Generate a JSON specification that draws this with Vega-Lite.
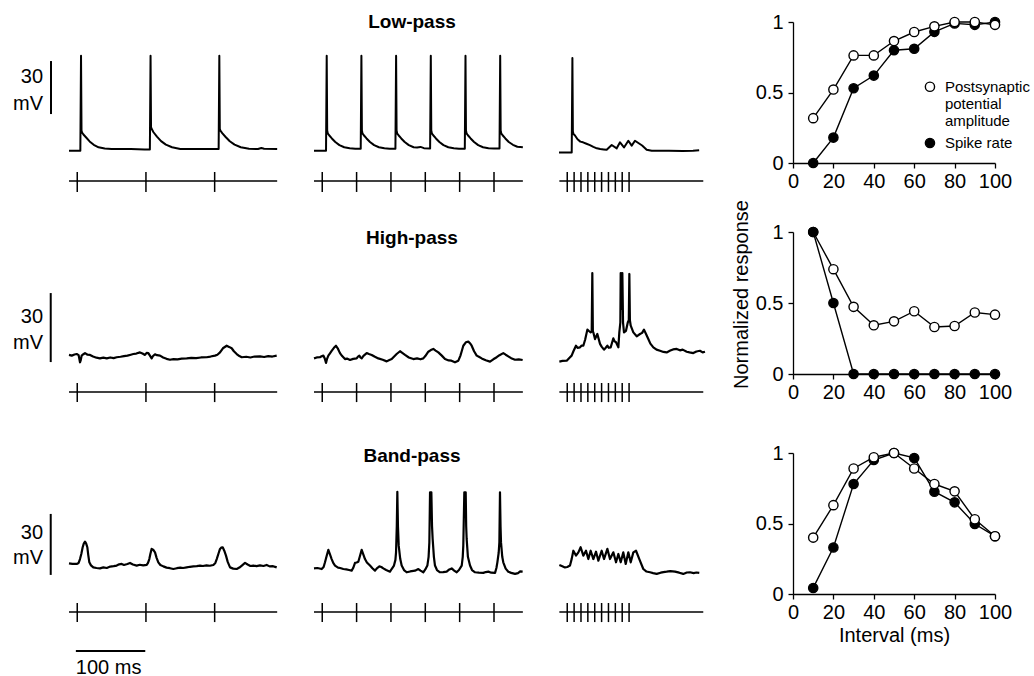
{
"$schema": "https://vega.github.io/schema/vega-lite/v6.json",
"padding": {"left": 13, "top": 12, "right": 10, "bottom": 0},
"columns": 4,
"spacing": {"row": 10, "column": 36},
"align": "each",
"bounds": "flush",
"config": {
  "view": {"stroke": null},
  "axis": {"domainColor": "black", "tickColor": "black", "labelColor": "black", "labelFont": "Liberation Sans", "labelFontSize": 20, "titleFont": "Liberation Sans", "titleFontSize": 20, "titleFontWeight": "normal", "titleColor": "black", "grid": false, "tickSize": 5, "domainWidth": 1.3, "tickWidth": 1.3, "labelFlush": false, "labelOverlap": false},
  "axisX": {"labelPadding": 3},
  "axisY": {"labelPadding": 5},
  "title": {"font": "Liberation Sans", "fontSize": 19, "fontWeight": "bold", "color": "black", "anchor": "middle", "baseline": "middle"}
},
"datasets": {
  "stim": [
    {"c":1,"t":12},{"c":1,"t":112},{"c":1,"t":212},
    {"c":2,"t":12},{"c":2,"t":62},{"c":2,"t":112},{"c":2,"t":162},{"c":2,"t":212},{"c":2,"t":262},
    {"c":3,"t":12},{"c":3,"t":22},{"c":3,"t":32},{"c":3,"t":42},{"c":3,"t":52},{"c":3,"t":62},{"c":3,"t":72},{"c":3,"t":82},{"c":3,"t":92},{"c":3,"t":102}
  ],
  "raster": [{"c":1,"t0":0,"t1":303},{"c":2,"t0":0,"t1":304},{"c":3,"t0":0.5,"t1":210}],
  "curves": [
    {"f":"LP","series":"spike","interval":10,"response":0},{"f":"LP","series":"spike","interval":20,"response":0.18},{"f":"LP","series":"spike","interval":30,"response":0.53},{"f":"LP","series":"spike","interval":40,"response":0.62},{"f":"LP","series":"spike","interval":50,"response":0.80},{"f":"LP","series":"spike","interval":60,"response":0.81},{"f":"LP","series":"spike","interval":70,"response":0.93},{"f":"LP","series":"spike","interval":80,"response":0.99},{"f":"LP","series":"spike","interval":90,"response":0.98},{"f":"LP","series":"spike","interval":100,"response":1.0},
    {"f":"LP","series":"psp","interval":10,"response":0.318},{"f":"LP","series":"psp","interval":20,"response":0.521},{"f":"LP","series":"psp","interval":30,"response":0.763},{"f":"LP","series":"psp","interval":40,"response":0.763},{"f":"LP","series":"psp","interval":50,"response":0.865},{"f":"LP","series":"psp","interval":60,"response":0.929},{"f":"LP","series":"psp","interval":70,"response":0.969},{"f":"LP","series":"psp","interval":80,"response":1.0},{"f":"LP","series":"psp","interval":90,"response":1.0},{"f":"LP","series":"psp","interval":100,"response":0.98},
    {"f":"HP","series":"psp","interval":10,"response":1.0},{"f":"HP","series":"psp","interval":20,"response":0.738},{"f":"HP","series":"psp","interval":30,"response":0.473},{"f":"HP","series":"psp","interval":40,"response":0.343},{"f":"HP","series":"psp","interval":50,"response":0.371},{"f":"HP","series":"psp","interval":60,"response":0.442},{"f":"HP","series":"psp","interval":70,"response":0.331},{"f":"HP","series":"psp","interval":80,"response":0.338},{"f":"HP","series":"psp","interval":90,"response":0.433},{"f":"HP","series":"psp","interval":100,"response":0.418},
    {"f":"HP","series":"spike","interval":10,"response":1.0},{"f":"HP","series":"spike","interval":20,"response":0.5},{"f":"HP","series":"spike","interval":30,"response":0},{"f":"HP","series":"spike","interval":40,"response":0},{"f":"HP","series":"spike","interval":50,"response":0},{"f":"HP","series":"spike","interval":60,"response":0},{"f":"HP","series":"spike","interval":70,"response":0},{"f":"HP","series":"spike","interval":80,"response":0},{"f":"HP","series":"spike","interval":90,"response":0},{"f":"HP","series":"spike","interval":100,"response":0},
    {"f":"BP","series":"spike","interval":10,"response":0.043},{"f":"BP","series":"spike","interval":20,"response":0.33},{"f":"BP","series":"spike","interval":30,"response":0.78},{"f":"BP","series":"spike","interval":40,"response":0.95},{"f":"BP","series":"spike","interval":50,"response":1.0},{"f":"BP","series":"spike","interval":60,"response":0.965},{"f":"BP","series":"spike","interval":70,"response":0.726},{"f":"BP","series":"spike","interval":80,"response":0.65},{"f":"BP","series":"spike","interval":90,"response":0.496},{"f":"BP","series":"spike","interval":100,"response":0.41},
    {"f":"BP","series":"psp","interval":10,"response":0.40},{"f":"BP","series":"psp","interval":20,"response":0.63},{"f":"BP","series":"psp","interval":30,"response":0.89},{"f":"BP","series":"psp","interval":40,"response":0.97},{"f":"BP","series":"psp","interval":50,"response":1.0},{"f":"BP","series":"psp","interval":60,"response":0.89},{"f":"BP","series":"psp","interval":70,"response":0.78},{"f":"BP","series":"psp","interval":80,"response":0.728},{"f":"BP","series":"psp","interval":90,"response":0.53},{"f":"BP","series":"psp","interval":100,"response":0.41}
  ],
  "traces": [
    {"p":"LP1","t":0,"v":-1},{"p":"LP1","t":16.5,"v":-1},{"p":"LP1","t":17.5,"v":52.8},{"p":"LP1","t":18.2,"v":10.5},{"p":"LP1","t":19,"v":9.4},{"p":"LP1","t":21,"v":8.2},{"p":"LP1","t":25,"v":6.5},{"p":"LP1","t":30,"v":4.3},{"p":"LP1","t":36,"v":2.4},{"p":"LP1","t":43,"v":1.0},{"p":"LP1","t":52,"v":0.3},{"p":"LP1","t":62,"v":0},{"p":"LP1","t":90,"v":0},{"p":"LP1","t":110,"v":-0.2},{"p":"LP1","t":117.7,"v":-0.2},{"p":"LP1","t":118.7,"v":52.8},{"p":"LP1","t":119.4,"v":12.5},{"p":"LP1","t":120.2,"v":11.5},{"p":"LP1","t":123,"v":9.5},{"p":"LP1","t":128,"v":7.0},{"p":"LP1","t":134,"v":4.5},{"p":"LP1","t":141,"v":2.5},{"p":"LP1","t":150,"v":1.0},{"p":"LP1","t":162,"v":0},{"p":"LP1","t":200,"v":0},{"p":"LP1","t":217.8,"v":0},{"p":"LP1","t":218.8,"v":52.8},{"p":"LP1","t":219.5,"v":11.5},{"p":"LP1","t":220.3,"v":10.5},{"p":"LP1","t":223,"v":9.0},{"p":"LP1","t":228,"v":6.8},{"p":"LP1","t":234,"v":4.4},{"p":"LP1","t":241,"v":2.5},{"p":"LP1","t":250,"v":1.0},{"p":"LP1","t":262,"v":0.2},{"p":"LP1","t":275,"v":0},{"p":"LP1","t":280,"v":0.6},{"p":"LP1","t":284,"v":0.2},{"p":"LP1","t":303,"v":0},
    {"p":"LP2","t":0,"v":-1},{"p":"LP2","t":17.5,"v":-1},{"p":"LP2","t":18.5,"v":52.8},{"p":"LP2","t":19.2,"v":10.5},{"p":"LP2","t":20,"v":8.9},{"p":"LP2","t":22,"v":7.8},{"p":"LP2","t":26,"v":6.0},{"p":"LP2","t":31,"v":4.0},{"p":"LP2","t":37,"v":2.2},{"p":"LP2","t":44,"v":1.0},{"p":"LP2","t":52,"v":0.4},{"p":"LP2","t":60,"v":0.2},{"p":"LP2","t":68,"v":0.2},{"p":"LP2","t":69,"v":52.8},{"p":"LP2","t":69.7,"v":10.5},{"p":"LP2","t":70.5,"v":8.9},{"p":"LP2","t":72.5,"v":7.8},{"p":"LP2","t":76.5,"v":6.0},{"p":"LP2","t":81.5,"v":4.0},{"p":"LP2","t":87.5,"v":2.2},{"p":"LP2","t":94.5,"v":1.0},{"p":"LP2","t":102.5,"v":0.4},{"p":"LP2","t":110,"v":0.2},{"p":"LP2","t":118.5,"v":0.2},{"p":"LP2","t":119.5,"v":52.8},{"p":"LP2","t":120.2,"v":10.5},{"p":"LP2","t":121,"v":8.9},{"p":"LP2","t":123,"v":7.8},{"p":"LP2","t":127,"v":6.0},{"p":"LP2","t":132,"v":4.0},{"p":"LP2","t":138,"v":2.2},{"p":"LP2","t":145,"v":1.0},{"p":"LP2","t":150,"v":0.9},{"p":"LP2","t":155,"v":1.2},{"p":"LP2","t":160,"v":0.5},{"p":"LP2","t":169,"v":0.3},{"p":"LP2","t":170,"v":52.8},{"p":"LP2","t":170.7,"v":10.5},{"p":"LP2","t":171.5,"v":8.9},{"p":"LP2","t":173.5,"v":7.8},{"p":"LP2","t":177.5,"v":6.0},{"p":"LP2","t":182.5,"v":4.0},{"p":"LP2","t":188.5,"v":2.2},{"p":"LP2","t":195.5,"v":1.0},{"p":"LP2","t":203.5,"v":0.4},{"p":"LP2","t":211,"v":0.2},{"p":"LP2","t":219.5,"v":0.2},{"p":"LP2","t":220.5,"v":52.8},{"p":"LP2","t":221.2,"v":10.5},{"p":"LP2","t":222,"v":8.9},{"p":"LP2","t":224,"v":7.8},{"p":"LP2","t":228,"v":6.0},{"p":"LP2","t":233,"v":4.0},{"p":"LP2","t":239,"v":2.2},{"p":"LP2","t":246,"v":1.0},{"p":"LP2","t":254,"v":0.5},{"p":"LP2","t":262,"v":0.3},{"p":"LP2","t":270,"v":0.3},{"p":"LP2","t":271,"v":52.8},{"p":"LP2","t":271.7,"v":10.5},{"p":"LP2","t":272.5,"v":8.9},{"p":"LP2","t":274.5,"v":7.8},{"p":"LP2","t":278.5,"v":6.0},{"p":"LP2","t":283.5,"v":4.0},{"p":"LP2","t":289.5,"v":2.4},{"p":"LP2","t":296,"v":1.3},{"p":"LP2","t":304,"v":1.0},
    {"p":"LP3","t":0,"v":-1.9},{"p":"LP3","t":18.5,"v":-1.9},{"p":"LP3","t":19.5,"v":51.5},{"p":"LP3","t":20.2,"v":10},{"p":"LP3","t":21,"v":8.5},{"p":"LP3","t":23,"v":7.8},{"p":"LP3","t":27,"v":5.5},{"p":"LP3","t":31,"v":4.2},{"p":"LP3","t":35,"v":3.8},{"p":"LP3","t":40,"v":3.0},{"p":"LP3","t":45,"v":2.2},{"p":"LP3","t":50,"v":1.2},{"p":"LP3","t":55,"v":0.4},{"p":"LP3","t":60,"v":0},{"p":"LP3","t":65,"v":-0.2},{"p":"LP3","t":69.4,"v":-0.4},{"p":"LP3","t":76.7,"v":2.3},{"p":"LP3","t":84,"v":0.4},{"p":"LP3","t":88.8,"v":3.8},{"p":"LP3","t":94.6,"v":0.9},{"p":"LP3","t":100.9,"v":4.7},{"p":"LP3","t":105.8,"v":1.9},{"p":"LP3","t":110.6,"v":4.7},{"p":"LP3","t":115.5,"v":3.4},{"p":"LP3","t":121,"v":2.0},{"p":"LP3","t":127.6,"v":-0.4},{"p":"LP3","t":135,"v":-1.0},{"p":"LP3","t":160,"v":-1.0},{"p":"LP3","t":180,"v":-1.1},{"p":"LP3","t":195,"v":-1.0},{"p":"LP3","t":204,"v":-0.7},
    {"p":"HP1","t":0,"v":0.9},{"p":"HP1","t":4,"v":0.6},{"p":"HP1","t":8,"v":1.1},{"p":"HP1","t":11.2,"v":1.3},{"p":"HP1","t":14,"v":0.8},{"p":"HP1","t":16,"v":-2.3},{"p":"HP1","t":17,"v":-1.5},{"p":"HP1","t":18.4,"v":0.6},{"p":"HP1","t":21,"v":1.2},{"p":"HP1","t":23.3,"v":1.7},{"p":"HP1","t":27,"v":1.0},{"p":"HP1","t":30.6,"v":0.9},{"p":"HP1","t":35,"v":0.2},{"p":"HP1","t":40,"v":-0.3},{"p":"HP1","t":45,"v":-0.6},{"p":"HP1","t":50,"v":-0.3},{"p":"HP1","t":55,"v":-0.6},{"p":"HP1","t":60,"v":-0.2},{"p":"HP1","t":65,"v":-0.5},{"p":"HP1","t":69.4,"v":-0.1},{"p":"HP1","t":75,"v":0.1},{"p":"HP1","t":80,"v":0.4},{"p":"HP1","t":85,"v":0.6},{"p":"HP1","t":90,"v":1.0},{"p":"HP1","t":93.6,"v":1.3},{"p":"HP1","t":98,"v":1.5},{"p":"HP1","t":103.3,"v":2.0},{"p":"HP1","t":107,"v":1.5},{"p":"HP1","t":110.6,"v":0.9},{"p":"HP1","t":113,"v":1.8},{"p":"HP1","t":115.5,"v":1.7},{"p":"HP1","t":118,"v":0.5},{"p":"HP1","t":120.3,"v":-0.6},{"p":"HP1","t":122,"v":0.3},{"p":"HP1","t":125.2,"v":1.2},{"p":"HP1","t":128,"v":0.8},{"p":"HP1","t":132.5,"v":0.6},{"p":"HP1","t":137,"v":-0.2},{"p":"HP1","t":142,"v":-0.8},{"p":"HP1","t":147,"v":-1.2},{"p":"HP1","t":152,"v":-0.9},{"p":"HP1","t":158,"v":-1.0},{"p":"HP1","t":164,"v":-0.7},{"p":"HP1","t":171.3,"v":-0.6},{"p":"HP1","t":178,"v":-0.4},{"p":"HP1","t":185,"v":-0.5},{"p":"HP1","t":192,"v":-0.2},{"p":"HP1","t":200.4,"v":-0.1},{"p":"HP1","t":206,"v":0.2},{"p":"HP1","t":212.5,"v":0.6},{"p":"HP1","t":216,"v":1.0},{"p":"HP1","t":219.8,"v":2.0},{"p":"HP1","t":224,"v":3.8},{"p":"HP1","t":229.5,"v":4.9},{"p":"HP1","t":233,"v":4.4},{"p":"HP1","t":236.8,"v":3.8},{"p":"HP1","t":240,"v":2.5},{"p":"HP1","t":244.1,"v":1.3},{"p":"HP1","t":248,"v":0.4},{"p":"HP1","t":251.4,"v":-0.1},{"p":"HP1","t":258,"v":0.1},{"p":"HP1","t":264,"v":-0.2},{"p":"HP1","t":270,"v":0.2},{"p":"HP1","t":278,"v":0.3},{"p":"HP1","t":284,"v":0.0},{"p":"HP1","t":290,"v":0.4},{"p":"HP1","t":296,"v":0.2},{"p":"HP1","t":302.3,"v":0.6},
    {"p":"HP2","t":0,"v":-0.6},{"p":"HP2","t":4,"v":-0.2},{"p":"HP2","t":8.7,"v":-0.1},{"p":"HP2","t":11,"v":0.3},{"p":"HP2","t":13.6,"v":0.6},{"p":"HP2","t":15.5,"v":-0.5},{"p":"HP2","t":17.5,"v":-2.6},{"p":"HP2","t":19,"v":-0.8},{"p":"HP2","t":20.9,"v":0.6},{"p":"HP2","t":23,"v":1.5},{"p":"HP2","t":25.7,"v":2.7},{"p":"HP2","t":29,"v":4.0},{"p":"HP2","t":32,"v":4.9},{"p":"HP2","t":35,"v":3.5},{"p":"HP2","t":37.8,"v":1.7},{"p":"HP2","t":41,"v":0.4},{"p":"HP2","t":45.1,"v":-0.9},{"p":"HP2","t":48,"v":-0.7},{"p":"HP2","t":52.4,"v":-1.3},{"p":"HP2","t":57,"v":-0.8},{"p":"HP2","t":62.1,"v":-0.6},{"p":"HP2","t":64,"v":0.2},{"p":"HP2","t":66,"v":0.6},{"p":"HP2","t":67.5,"v":-0.2},{"p":"HP2","t":69.4,"v":-0.6},{"p":"HP2","t":72,"v":0.5},{"p":"HP2","t":76.7,"v":1.7},{"p":"HP2","t":80,"v":1.3},{"p":"HP2","t":84,"v":0.9},{"p":"HP2","t":88,"v":0.2},{"p":"HP2","t":93.6,"v":-0.6},{"p":"HP2","t":100,"v":-1.2},{"p":"HP2","t":105.8,"v":-1.9},{"p":"HP2","t":109,"v":-1.4},{"p":"HP2","t":113.1,"v":-0.9},{"p":"HP2","t":116,"v":0.0},{"p":"HP2","t":120.3,"v":1.3},{"p":"HP2","t":125.2,"v":2.5},{"p":"HP2","t":128,"v":1.9},{"p":"HP2","t":132.5,"v":0.9},{"p":"HP2","t":138,"v":-0.2},{"p":"HP2","t":144.6,"v":-0.9},{"p":"HP2","t":150,"v":-0.6},{"p":"HP2","t":155,"v":-1.0},{"p":"HP2","t":159.1,"v":-0.6},{"p":"HP2","t":162,"v":0.4},{"p":"HP2","t":166.4,"v":2.3},{"p":"HP2","t":170,"v":3.0},{"p":"HP2","t":173.7,"v":3.5},{"p":"HP2","t":177,"v":2.8},{"p":"HP2","t":181,"v":2.0},{"p":"HP2","t":186,"v":0.6},{"p":"HP2","t":190.7,"v":-0.9},{"p":"HP2","t":196,"v":-1.5},{"p":"HP2","t":200,"v":-1.6},{"p":"HP2","t":205.2,"v":-2.3},{"p":"HP2","t":210.1,"v":-1.6},{"p":"HP2","t":213,"v":0.5},{"p":"HP2","t":215,"v":2.5},{"p":"HP2","t":217.3,"v":4.9},{"p":"HP2","t":221,"v":6.4},{"p":"HP2","t":224.6,"v":6.7},{"p":"HP2","t":227,"v":6.0},{"p":"HP2","t":229.5,"v":4.9},{"p":"HP2","t":233,"v":2.5},{"p":"HP2","t":236.8,"v":0.6},{"p":"HP2","t":240,"v":0.1},{"p":"HP2","t":244.1,"v":-0.6},{"p":"HP2","t":250,"v":-1.4},{"p":"HP2","t":256.2,"v":-2.0},{"p":"HP2","t":261,"v":-1.0},{"p":"HP2","t":265.9,"v":-0.1},{"p":"HP2","t":270,"v":0.8},{"p":"HP2","t":275.5,"v":1.7},{"p":"HP2","t":279,"v":1.0},{"p":"HP2","t":282.8,"v":0.3},{"p":"HP2","t":287,"v":-0.5},{"p":"HP2","t":292.6,"v":-1.2},{"p":"HP2","t":298,"v":-1.0},{"p":"HP2","t":303.7,"v":-1.3},
    {"p":"HP3","t":0.5,"v":-2.0},{"p":"HP3","t":5,"v":-1.7},{"p":"HP3","t":11.2,"v":-1.6},{"p":"HP3","t":15,"v":-0.4},{"p":"HP3","t":18.4,"v":0.6},{"p":"HP3","t":21,"v":2.5},{"p":"HP3","t":24.7,"v":4.9},{"p":"HP3","t":27,"v":4.0},{"p":"HP3","t":30.6,"v":4.2},{"p":"HP3","t":33,"v":5.0},{"p":"HP3","t":35.4,"v":4.9},{"p":"HP3","t":38,"v":7.5},{"p":"HP3","t":41.3,"v":11.9},{"p":"HP3","t":44,"v":11.2},{"p":"HP3","t":46.1,"v":10.7},{"p":"HP3","t":47.6,"v":11},{"p":"HP3","t":48.5,"v":36.5},{"p":"HP3","t":49.3,"v":11},{"p":"HP3","t":50,"v":10.7},{"p":"HP3","t":52.4,"v":7.8},{"p":"HP3","t":55.8,"v":10},{"p":"HP3","t":59.7,"v":5.7},{"p":"HP3","t":62,"v":4.5},{"p":"HP3","t":65.5,"v":3.2},{"p":"HP3","t":68,"v":4.0},{"p":"HP3","t":70.4,"v":4.9},{"p":"HP3","t":72.5,"v":4.0},{"p":"HP3","t":75.2,"v":4.2},{"p":"HP3","t":77,"v":6.0},{"p":"HP3","t":79.1,"v":8.1},{"p":"HP3","t":81,"v":6.8},{"p":"HP3","t":83,"v":6.4},{"p":"HP3","t":86.4,"v":4.2},{"p":"HP3","t":87.8,"v":10.7},{"p":"HP3","t":89.3,"v":15},{"p":"HP3","t":89.8,"v":36.5},{"p":"HP3","t":90.4,"v":20.9},{"p":"HP3","t":91.6,"v":20.9},{"p":"HP3","t":92.2,"v":36.5},{"p":"HP3","t":93.2,"v":15},{"p":"HP3","t":94.6,"v":10.7},{"p":"HP3","t":97.5,"v":11.4},{"p":"HP3","t":100.2,"v":15.1},{"p":"HP3","t":101.6,"v":16},{"p":"HP3","t":102.4,"v":36.1},{"p":"HP3","t":103.2,"v":16},{"p":"HP3","t":104.4,"v":13.6},{"p":"HP3","t":108.2,"v":10.7},{"p":"HP3","t":113.1,"v":9.0},{"p":"HP3","t":117.9,"v":10.0},{"p":"HP3","t":121,"v":10.5},{"p":"HP3","t":123.7,"v":11.9},{"p":"HP3","t":127,"v":9.8},{"p":"HP3","t":130,"v":7.8},{"p":"HP3","t":133,"v":5.8},{"p":"HP3","t":137.3,"v":4.2},{"p":"HP3","t":142,"v":3.2},{"p":"HP3","t":147,"v":2.7},{"p":"HP3","t":152,"v":2.2},{"p":"HP3","t":156.7,"v":2.0},{"p":"HP3","t":162,"v":2.8},{"p":"HP3","t":166,"v":3.3},{"p":"HP3","t":171.3,"v":3.5},{"p":"HP3","t":176,"v":2.9},{"p":"HP3","t":180,"v":3.2},{"p":"HP3","t":185.9,"v":2.3},{"p":"HP3","t":190,"v":2.0},{"p":"HP3","t":195.5,"v":1.7},{"p":"HP3","t":200,"v":2.4},{"p":"HP3","t":205.2,"v":2.7},{"p":"HP3","t":209,"v":2.0},{"p":"HP3","t":212.5,"v":2.3},
    {"p":"BP1","t":0,"v":1.8},{"p":"BP1","t":5,"v":1.5},{"p":"BP1","t":11.2,"v":1.5},{"p":"BP1","t":14,"v":2.0},{"p":"BP1","t":16,"v":3.9},{"p":"BP1","t":18,"v":6.5},{"p":"BP1","t":19.9,"v":9.7},{"p":"BP1","t":21.5,"v":11.5},{"p":"BP1","t":23.3,"v":12.5},{"p":"BP1","t":25,"v":11.5},{"p":"BP1","t":26.7,"v":9.7},{"p":"BP1","t":28,"v":6},{"p":"BP1","t":29.6,"v":2.3},{"p":"BP1","t":32,"v":0.8},{"p":"BP1","t":35.4,"v":-0.2},{"p":"BP1","t":40,"v":-0.5},{"p":"BP1","t":45.1,"v":-0.7},{"p":"BP1","t":50,"v":-0.2},{"p":"BP1","t":55,"v":-0.5},{"p":"BP1","t":60,"v":0.2},{"p":"BP1","t":65,"v":0.4},{"p":"BP1","t":69.4,"v":0.7},{"p":"BP1","t":73,"v":1.3},{"p":"BP1","t":76.7,"v":1.5},{"p":"BP1","t":80,"v":1.0},{"p":"BP1","t":85,"v":1.5},{"p":"BP1","t":88.8,"v":2.0},{"p":"BP1","t":93,"v":1.2},{"p":"BP1","t":98.5,"v":0.7},{"p":"BP1","t":103,"v":1.1},{"p":"BP1","t":108,"v":0.8},{"p":"BP1","t":113.1,"v":1.0},{"p":"BP1","t":115,"v":2.0},{"p":"BP1","t":116.9,"v":3.9},{"p":"BP1","t":118.5,"v":6.5},{"p":"BP1","t":120.3,"v":8.9},{"p":"BP1","t":122.5,"v":8.5},{"p":"BP1","t":125.2,"v":7.2},{"p":"BP1","t":127.5,"v":4.5},{"p":"BP1","t":130,"v":2.3},{"p":"BP1","t":133,"v":1.0},{"p":"BP1","t":137.3,"v":0.3},{"p":"BP1","t":142,"v":-0.3},{"p":"BP1","t":147,"v":-0.6},{"p":"BP1","t":151.9,"v":-1.0},{"p":"BP1","t":157,"v":-0.6},{"p":"BP1","t":162,"v":-0.3},{"p":"BP1","t":166,"v":-0.5},{"p":"BP1","t":171.3,"v":-0.2},{"p":"BP1","t":176,"v":0.1},{"p":"BP1","t":181,"v":0.3},{"p":"BP1","t":186,"v":0.4},{"p":"BP1","t":190.7,"v":0.7},{"p":"BP1","t":195,"v":0.5},{"p":"BP1","t":200,"v":0.8},{"p":"BP1","t":205,"v":0.6},{"p":"BP1","t":210.1,"v":1.0},{"p":"BP1","t":213,"v":2.0},{"p":"BP1","t":215,"v":3.9},{"p":"BP1","t":217.5,"v":6.5},{"p":"BP1","t":219.8,"v":8.9},{"p":"BP1","t":221.5,"v":9.5},{"p":"BP1","t":223.7,"v":9.7},{"p":"BP1","t":226,"v":8.0},{"p":"BP1","t":228.5,"v":5.6},{"p":"BP1","t":231,"v":2.5},{"p":"BP1","t":234.4,"v":-0.2},{"p":"BP1","t":239,"v":-0.8},{"p":"BP1","t":244.1,"v":-1.0},{"p":"BP1","t":248,"v":-0.3},{"p":"BP1","t":252,"v":0.8},{"p":"BP1","t":256.2,"v":2.0},{"p":"BP1","t":260,"v":1.2},{"p":"BP1","t":264,"v":0.5},{"p":"BP1","t":268.3,"v":0.7},{"p":"BP1","t":273,"v":0.4},{"p":"BP1","t":278,"v":0.8},{"p":"BP1","t":283,"v":0.5},{"p":"BP1","t":287.7,"v":1.0},{"p":"BP1","t":292,"v":0.3},{"p":"BP1","t":297,"v":0.4},{"p":"BP1","t":302.3,"v":-0.2},
    {"p":"BP2","t":0,"v":-0.7},{"p":"BP2","t":5,"v":-0.5},{"p":"BP2","t":11.2,"v":-1.0},{"p":"BP2","t":14,"v":0.0},{"p":"BP2","t":16,"v":2.3},{"p":"BP2","t":18.5,"v":5.5},{"p":"BP2","t":20.9,"v":8.4},{"p":"BP2","t":23,"v":6.5},{"p":"BP2","t":25.7,"v":3.9},{"p":"BP2","t":28,"v":2.0},{"p":"BP2","t":30.6,"v":0.7},{"p":"BP2","t":35,"v":-0.3},{"p":"BP2","t":38,"v":-0.5},{"p":"BP2","t":42.7,"v":-1.0},{"p":"BP2","t":47,"v":-1.2},{"p":"BP2","t":51,"v":-1.5},{"p":"BP2","t":54.8,"v":-1.8},{"p":"BP2","t":57,"v":-0.5},{"p":"BP2","t":59.7,"v":2.0},{"p":"BP2","t":62,"v":2.2},{"p":"BP2","t":64.5,"v":2.6},{"p":"BP2","t":67,"v":5.5},{"p":"BP2","t":69.4,"v":8.4},{"p":"BP2","t":71.5,"v":6.5},{"p":"BP2","t":74.2,"v":3.9},{"p":"BP2","t":77,"v":2.2},{"p":"BP2","t":81.5,"v":0.7},{"p":"BP2","t":85,"v":-0.6},{"p":"BP2","t":88.8,"v":-1.8},{"p":"BP2","t":92,"v":-0.5},{"p":"BP2","t":95.1,"v":0.3},{"p":"BP2","t":98,"v":0.0},{"p":"BP2","t":100.9,"v":-0.7},{"p":"BP2","t":105,"v":-1.5},{"p":"BP2","t":110.6,"v":-2.3},{"p":"BP2","t":113,"v":-1.0},{"p":"BP2","t":116.4,"v":0.7},{"p":"BP2","t":118.5,"v":3.5},{"p":"BP2","t":119.4,"v":7.2},{"p":"BP2","t":120.5,"v":20},{"p":"BP2","t":121.3,"v":37.0},{"p":"BP2","t":122.2,"v":20},{"p":"BP2","t":123.3,"v":10.5},{"p":"BP2","t":125.5,"v":4.0},{"p":"BP2","t":127.6,"v":0.7},{"p":"BP2","t":131,"v":-1.5},{"p":"BP2","t":134.9,"v":-2.6},{"p":"BP2","t":140,"v":-2.2},{"p":"BP2","t":147,"v":-1.8},{"p":"BP2","t":151.9,"v":-1.0},{"p":"BP2","t":155,"v":-1.8},{"p":"BP2","t":159.1,"v":-2.6},{"p":"BP2","t":162,"v":-1.2},{"p":"BP2","t":165,"v":0.7},{"p":"BP2","t":166.8,"v":5.0},{"p":"BP2","t":167.9,"v":12.1},{"p":"BP2","t":168.9,"v":36.7},{"p":"BP2","t":170.8,"v":36.7},{"p":"BP2","t":171.8,"v":20},{"p":"BP2","t":172.7,"v":13.8},{"p":"BP2","t":174.5,"v":5.0},{"p":"BP2","t":176.1,"v":0.7},{"p":"BP2","t":179,"v":-1.5},{"p":"BP2","t":183.4,"v":-2.6},{"p":"BP2","t":188,"v":-2.5},{"p":"BP2","t":193.1,"v":-2.3},{"p":"BP2","t":197,"v":-1.2},{"p":"BP2","t":200.4,"v":-0.7},{"p":"BP2","t":204,"v":-1.8},{"p":"BP2","t":207.7,"v":-2.6},{"p":"BP2","t":211,"v":-1.5},{"p":"BP2","t":215,"v":0.7},{"p":"BP2","t":216.5,"v":5.0},{"p":"BP2","t":217.3,"v":10.5},{"p":"BP2","t":218.8,"v":36.7},{"p":"BP2","t":220.8,"v":36.7},{"p":"BP2","t":221.5,"v":20},{"p":"BP2","t":222.2,"v":13.8},{"p":"BP2","t":224,"v":5.0},{"p":"BP2","t":227.1,"v":0.7},{"p":"BP2","t":230,"v":-1.5},{"p":"BP2","t":234.4,"v":-2.6},{"p":"BP2","t":240,"v":-2.8},{"p":"BP2","t":246.5,"v":-2.9},{"p":"BP2","t":250,"v":-2.5},{"p":"BP2","t":253.8,"v":-2.3},{"p":"BP2","t":258,"v":-2.8},{"p":"BP2","t":263.5,"v":-2.9},{"p":"BP2","t":265.5,"v":-0.5},{"p":"BP2","t":266.9,"v":2.3},{"p":"BP2","t":268.8,"v":7},{"p":"BP2","t":269.8,"v":12.1},{"p":"BP2","t":270.7,"v":36.7},{"p":"BP2","t":271.5,"v":20},{"p":"BP2","t":272.2,"v":12.1},{"p":"BP2","t":274,"v":5.0},{"p":"BP2","t":275.5,"v":2.3},{"p":"BP2","t":279,"v":-0.8},{"p":"BP2","t":282.8,"v":-2.3},{"p":"BP2","t":287,"v":-2.9},{"p":"BP2","t":292.6,"v":-3.4},{"p":"BP2","t":297,"v":-3.0},{"p":"BP2","t":300,"v":-2.2},{"p":"BP2","t":303.7,"v":-2.3},
    {"p":"BP3","t":0.5,"v":1.0},{"p":"BP3","t":4,"v":0.5},{"p":"BP3","t":8.7,"v":-0.2},{"p":"BP3","t":12,"v":0.0},{"p":"BP3","t":16,"v":0.7},{"p":"BP3","t":18.5,"v":4.0},{"p":"BP3","t":20.9,"v":8.0},{"p":"BP3","t":24.7,"v":5.6},{"p":"BP3","t":28.2,"v":7.2},{"p":"BP3","t":31.5,"v":9.7},{"p":"BP3","t":35.4,"v":5.6},{"p":"BP3","t":39.3,"v":8.0},{"p":"BP3","t":42.7,"v":3.9},{"p":"BP3","t":46.1,"v":8.0},{"p":"BP3","t":50,"v":3.9},{"p":"BP3","t":53.9,"v":7.5},{"p":"BP3","t":57.3,"v":3.1},{"p":"BP3","t":62.1,"v":8.0},{"p":"BP3","t":65.5,"v":3.9},{"p":"BP3","t":70.4,"v":8.9},{"p":"BP3","t":74.2,"v":3.9},{"p":"BP3","t":79.1,"v":7.2},{"p":"BP3","t":83,"v":2.3},{"p":"BP3","t":86.4,"v":6.4},{"p":"BP3","t":89.8,"v":2.3},{"p":"BP3","t":93.6,"v":7.2},{"p":"BP3","t":97.1,"v":1.5},{"p":"BP3","t":100.9,"v":7.2},{"p":"BP3","t":104.4,"v":2.3},{"p":"BP3","t":108.2,"v":7.2},{"p":"BP3","t":112.1,"v":8.0},{"p":"BP3","t":116.9,"v":3.9},{"p":"BP3","t":122.7,"v":-1.0},{"p":"BP3","t":127,"v":-2.2},{"p":"BP3","t":132.5,"v":-2.6},{"p":"BP3","t":137,"v":-3.0},{"p":"BP3","t":142.2,"v":-3.4},{"p":"BP3","t":148,"v":-2.8},{"p":"BP3","t":152,"v":-2.5},{"p":"BP3","t":156.7,"v":-2.3},{"p":"BP3","t":162,"v":-2.0},{"p":"BP3","t":168.9,"v":-2.3},{"p":"BP3","t":175,"v":-2.8},{"p":"BP3","t":180.9,"v":-3.4},{"p":"BP3","t":186,"v":-2.7},{"p":"BP3","t":190.7,"v":-2.6},{"p":"BP3","t":196,"v":-3.0},{"p":"BP3","t":200,"v":-2.7},{"p":"BP3","t":204.2,"v":-2.9}
  ]
},
"concat": [
  {"width": 209, "height": 200, "layer": [
    {"data": {"name": "traces"}, "transform": [{"filter": "datum.p=='LP1'"}], "mark": {"type": "line", "color": "black", "strokeWidth": 2, "strokeJoin": "round"},
     "encoding": {"x": {"field": "t", "type": "quantitative", "scale": {"domain": [0, 304.2], "nice": false, "zero": false}, "axis": null}, "y": {"field": "v", "type": "quantitative", "scale": {"domain": [-41.3, 71.9], "nice": false, "zero": false}, "axis": null}}},
    {"data": {"name": "raster"}, "transform": [{"filter": "datum.c==1"}], "mark": {"type": "rule", "color": "black", "strokeWidth": 1.5}, "encoding": {"x": {"field": "t0", "type": "quantitative", "axis": null}, "x2": {"field": "t1"}, "y": {"datum": -18.1, "axis": null}}},
    {"data": {"name": "stim"}, "transform": [{"filter": "datum.c==1"}], "mark": {"type": "rule", "color": "black", "strokeWidth": 1.5}, "encoding": {"x": {"field": "t", "type": "quantitative", "axis": null}, "y": {"datum": -13.0, "axis": null}, "y2": {"datum": -24.3}}},
    {"data": {"values": [{}]}, "mark": {"type": "rule", "color": "black", "strokeWidth": 2}, "encoding": {"x": {"datum": -26.2, "axis": null}, "y": {"datum": 19.8, "axis": null}, "y2": {"datum": 49.8}}},
    {"data": {"values": [{}]}, "mark": {"type": "text", "text": ["30", "mV"], "align": "right", "baseline": "top", "lineHeight": 27, "font": "Liberation Sans", "fontSize": 20, "color": "black"}, "encoding": {"x": {"datum": -37.8, "axis": null}, "y": {"datum": 46.2, "axis": null}}}
  ]},
  {"width": 209, "height": 200, "title": {"text": "Low-pass", "offset": -10, "dx": -6.5}, "layer": [
    {"data": {"name": "traces"}, "transform": [{"filter": "datum.p=='LP2'"}], "mark": {"type": "line", "color": "black", "strokeWidth": 2, "strokeJoin": "round"},
     "encoding": {"x": {"field": "t", "type": "quantitative", "scale": {"domain": [0, 304.2], "nice": false, "zero": false}, "axis": null}, "y": {"field": "v", "type": "quantitative", "scale": {"domain": [-41.3, 71.9], "nice": false, "zero": false}, "axis": null}}},
    {"data": {"name": "raster"}, "transform": [{"filter": "datum.c==2"}], "mark": {"type": "rule", "color": "black", "strokeWidth": 1.5}, "encoding": {"x": {"field": "t0", "type": "quantitative", "axis": null}, "x2": {"field": "t1"}, "y": {"datum": -18.1, "axis": null}}},
    {"data": {"name": "stim"}, "transform": [{"filter": "datum.c==2"}], "mark": {"type": "rule", "color": "black", "strokeWidth": 1.5}, "encoding": {"x": {"field": "t", "type": "quantitative", "axis": null}, "y": {"datum": -13.0, "axis": null}, "y2": {"datum": -24.3}}}
  ]},
  {"width": 198, "height": 200, "layer": [
    {"data": {"name": "traces"}, "transform": [{"filter": "datum.p=='LP3'"}], "mark": {"type": "line", "color": "black", "strokeWidth": 2, "strokeJoin": "round"},
     "encoding": {"x": {"field": "t", "type": "quantitative", "scale": {"domain": [0, 288.2], "nice": false, "zero": false}, "axis": null}, "y": {"field": "v", "type": "quantitative", "scale": {"domain": [-41.3, 71.9], "nice": false, "zero": false}, "axis": null}}},
    {"data": {"name": "raster"}, "transform": [{"filter": "datum.c==3"}], "mark": {"type": "rule", "color": "black", "strokeWidth": 1.5}, "encoding": {"x": {"field": "t0", "type": "quantitative", "axis": null}, "x2": {"field": "t1"}, "y": {"datum": -18.1, "axis": null}}},
    {"data": {"name": "stim"}, "transform": [{"filter": "datum.c==3"}], "mark": {"type": "rule", "color": "black", "strokeWidth": 1.5}, "encoding": {"x": {"field": "t", "type": "quantitative", "axis": null}, "y": {"datum": -13.0, "axis": null}, "y2": {"datum": -24.3}}}
  ]},
  {"width": 202, "height": 141, "layer": [
    {"data": {"name": "curves"}, "transform": [{"filter": "datum.f=='LP'"}], "mark": {"type": "line", "color": "black", "strokeWidth": 1.4},
     "encoding": {"x": {"field": "interval", "type": "quantitative", "scale": {"domain": [0, 100], "nice": false}, "axis": {"values": [0, 20, 40, 60, 80, 100], "title": null}}, "y": {"field": "response", "type": "quantitative", "scale": {"domain": [0, 1], "nice": false}, "axis": {"values": [0, 0.25, 0.5, 0.75, 1], "format": "~g", "labelExpr": "datum.value==0.25||datum.value==0.75?'':datum.label", "title": null}}, "detail": {"field": "series"}}},
    {"data": {"name": "curves"}, "transform": [{"filter": "datum.f=='LP'"}], "mark": {"type": "point", "filled": true, "size": 85, "stroke": "black", "strokeWidth": 1.4, "opacity": 1},
     "encoding": {"x": {"field": "interval", "type": "quantitative"}, "y": {"field": "response", "type": "quantitative"}, "fill": {"field": "series", "type": "nominal", "scale": {"domain": ["psp", "spike"], "range": ["white", "black"]}, "legend": null}}},
    {"data": {"values": [{}]}, "mark": {"type": "point", "filled": true, "size": 85, "fill": "white", "stroke": "black", "strokeWidth": 1.4, "opacity": 1}, "encoding": {"x": {"datum": 67.8}, "y": {"datum": 0.541}}},
    {"data": {"values": [{}]}, "mark": {"type": "point", "filled": true, "size": 85, "fill": "black", "stroke": "black", "strokeWidth": 1.4, "opacity": 1}, "encoding": {"x": {"datum": 67.8}, "y": {"datum": 0.142}}},
    {"data": {"values": [{}]}, "mark": {"type": "text", "text": ["Postsynaptic", "potential", "amplitude"], "align": "left", "baseline": "top", "lineHeight": 17, "font": "Liberation Sans", "fontSize": 15, "color": "black"}, "encoding": {"x": {"datum": 75.2}, "y": {"datum": 0.587}}},
    {"data": {"values": [{}]}, "mark": {"type": "text", "text": "Spike rate", "align": "left", "baseline": "middle", "font": "Liberation Sans", "fontSize": 15, "color": "black"}, "encoding": {"x": {"datum": 75.2}, "y": {"datum": 0.142}}}
  ]},

  {"width": 209, "height": 211, "layer": [
    {"data": {"name": "traces"}, "transform": [{"filter": "datum.p=='HP1'"}], "mark": {"type": "line", "color": "black", "strokeWidth": 2.2, "strokeJoin": "round"},
     "encoding": {"x": {"field": "t", "type": "quantitative", "scale": {"domain": [0, 304.2], "nice": false, "zero": false}, "axis": null}, "y": {"field": "v", "type": "quantitative", "scale": {"domain": [-37.39, 54.35], "nice": false, "zero": false}, "axis": null}}},
    {"data": {"name": "raster"}, "transform": [{"filter": "datum.c==1"}], "mark": {"type": "rule", "color": "black", "strokeWidth": 1.5}, "encoding": {"x": {"field": "t0", "type": "quantitative", "axis": null}, "x2": {"field": "t1"}, "y": {"datum": -15.2, "axis": null}}},
    {"data": {"name": "stim"}, "transform": [{"filter": "datum.c==1"}], "mark": {"type": "rule", "color": "black", "strokeWidth": 1.5}, "encoding": {"x": {"field": "t", "type": "quantitative", "axis": null}, "y": {"datum": -11.3, "axis": null}, "y2": {"datum": -19.6}}},
    {"data": {"values": [{}]}, "mark": {"type": "rule", "color": "black", "strokeWidth": 2}, "encoding": {"x": {"datum": -26.6, "axis": null}, "y": {"datum": -2.2, "axis": null}, "y2": {"datum": 27.8}}},
    {"data": {"values": [{}]}, "mark": {"type": "text", "text": ["30", "mV"], "align": "right", "baseline": "top", "lineHeight": 26, "font": "Liberation Sans", "fontSize": 20, "color": "black"}, "encoding": {"x": {"datum": -37.8, "axis": null}, "y": {"datum": 21.6, "axis": null}}}
  ]},
  {"width": 209, "height": 211, "title": {"text": "High-pass", "offset": -16, "dx": -6.5}, "layer": [
    {"data": {"name": "traces"}, "transform": [{"filter": "datum.p=='HP2'"}], "mark": {"type": "line", "color": "black", "strokeWidth": 2.2, "strokeJoin": "round"},
     "encoding": {"x": {"field": "t", "type": "quantitative", "scale": {"domain": [0, 304.2], "nice": false, "zero": false}, "axis": null}, "y": {"field": "v", "type": "quantitative", "scale": {"domain": [-37.39, 54.35], "nice": false, "zero": false}, "axis": null}}},
    {"data": {"name": "raster"}, "transform": [{"filter": "datum.c==2"}], "mark": {"type": "rule", "color": "black", "strokeWidth": 1.5}, "encoding": {"x": {"field": "t0", "type": "quantitative", "axis": null}, "x2": {"field": "t1"}, "y": {"datum": -15.2, "axis": null}}},
    {"data": {"name": "stim"}, "transform": [{"filter": "datum.c==2"}], "mark": {"type": "rule", "color": "black", "strokeWidth": 1.5}, "encoding": {"x": {"field": "t", "type": "quantitative", "axis": null}, "y": {"datum": -11.3, "axis": null}, "y2": {"datum": -19.6}}}
  ]},
  {"width": 198, "height": 211, "layer": [
    {"data": {"name": "traces"}, "transform": [{"filter": "datum.p=='HP3'"}], "mark": {"type": "line", "color": "black", "strokeWidth": 2.2, "strokeJoin": "round"},
     "encoding": {"x": {"field": "t", "type": "quantitative", "scale": {"domain": [0, 288.2], "nice": false, "zero": false}, "axis": null}, "y": {"field": "v", "type": "quantitative", "scale": {"domain": [-37.39, 54.35], "nice": false, "zero": false}, "axis": null}}},
    {"data": {"name": "raster"}, "transform": [{"filter": "datum.c==3"}], "mark": {"type": "rule", "color": "black", "strokeWidth": 1.5}, "encoding": {"x": {"field": "t0", "type": "quantitative", "axis": null}, "x2": {"field": "t1"}, "y": {"datum": -15.2, "axis": null}}},
    {"data": {"name": "stim"}, "transform": [{"filter": "datum.c==3"}], "mark": {"type": "rule", "color": "black", "strokeWidth": 1.5}, "encoding": {"x": {"field": "t", "type": "quantitative", "axis": null}, "y": {"datum": -11.3, "axis": null}, "y2": {"datum": -19.6}}}
  ]},
  {"width": 202, "height": 142, "layer": [
    {"data": {"name": "curves"}, "transform": [{"filter": "datum.f=='HP'"}], "mark": {"type": "line", "color": "black", "strokeWidth": 1.4},
     "encoding": {"x": {"field": "interval", "type": "quantitative", "scale": {"domain": [0, 100], "nice": false}, "axis": {"values": [0, 20, 40, 60, 80, 100], "title": null}}, "y": {"field": "response", "type": "quantitative", "scale": {"domain": [0, 1], "nice": false}, "axis": {"values": [0, 0.25, 0.5, 0.75, 1], "format": "~g", "labelExpr": "datum.value==0.25||datum.value==0.75?'':datum.label", "title": "Normalized response", "titlePadding": 4, "titleY": 62}}, "detail": {"field": "series"}}},
    {"data": {"name": "curves"}, "transform": [{"filter": "datum.f=='HP'"}], "mark": {"type": "point", "filled": true, "size": 85, "stroke": "black", "strokeWidth": 1.4, "opacity": 1},
     "encoding": {"x": {"field": "interval", "type": "quantitative"}, "y": {"field": "response", "type": "quantitative"}, "fill": {"field": "series", "type": "nominal", "scale": {"domain": ["psp", "spike"], "range": ["white", "black"]}, "legend": null}}}
  ]},

  {"width": 209, "height": 200, "layer": [
    {"data": {"name": "traces"}, "transform": [{"filter": "datum.p=='BP1'"}], "mark": {"type": "line", "color": "black", "strokeWidth": 2.2, "strokeJoin": "round"},
     "encoding": {"x": {"field": "t", "type": "quantitative", "scale": {"domain": [0, 304.2], "nice": false, "zero": false}, "axis": null}, "y": {"field": "v", "type": "quantitative", "scale": {"domain": [-42.31, 56.07], "nice": false, "zero": false}, "axis": null}}},
    {"data": {"name": "raster"}, "transform": [{"filter": "datum.c==1"}], "mark": {"type": "rule", "color": "black", "strokeWidth": 1.5}, "encoding": {"x": {"field": "t0", "type": "quantitative", "axis": null}, "x2": {"field": "t1"}, "y": {"datum": -22.1, "axis": null}}},
    {"data": {"name": "stim"}, "transform": [{"filter": "datum.c==1"}], "mark": {"type": "rule", "color": "black", "strokeWidth": 1.5}, "encoding": {"x": {"field": "t", "type": "quantitative", "axis": null}, "y": {"datum": -17.7, "axis": null}, "y2": {"datum": -27.1}}},
    {"data": {"values": [{}]}, "mark": {"type": "rule", "color": "black", "strokeWidth": 2}, "encoding": {"x": {"datum": -26.6, "axis": null}, "y": {"datum": -3.9, "axis": null}, "y2": {"datum": 26.1}}},
    {"data": {"values": [{}]}, "mark": {"type": "text", "text": ["30", "mV"], "align": "right", "baseline": "top", "lineHeight": 25, "font": "Liberation Sans", "fontSize": 20, "color": "black"}, "encoding": {"x": {"datum": -37.8, "axis": null}, "y": {"datum": 21.4, "axis": null}}},
    {"data": {"values": [{}]}, "mark": {"type": "rule", "color": "black", "strokeWidth": 2}, "encoding": {"x": {"datum": 10, "axis": null}, "x2": {"datum": 111}, "y": {"datum": -41.3, "axis": null}}},
    {"data": {"values": [{}]}, "mark": {"type": "text", "text": "100 ms", "align": "left", "baseline": "middle", "font": "Liberation Sans", "fontSize": 20, "color": "black"}, "encoding": {"x": {"datum": 10, "axis": null}, "y": {"datum": -49.5, "axis": null}}}
  ]},
  {"width": 209, "height": 200, "title": {"text": "Band-pass", "offset": -13, "dx": -6.5}, "layer": [
    {"data": {"name": "traces"}, "transform": [{"filter": "datum.p=='BP2'"}], "mark": {"type": "line", "color": "black", "strokeWidth": 2.2, "strokeJoin": "round"},
     "encoding": {"x": {"field": "t", "type": "quantitative", "scale": {"domain": [0, 304.2], "nice": false, "zero": false}, "axis": null}, "y": {"field": "v", "type": "quantitative", "scale": {"domain": [-42.31, 56.07], "nice": false, "zero": false}, "axis": null}}},
    {"data": {"name": "raster"}, "transform": [{"filter": "datum.c==2"}], "mark": {"type": "rule", "color": "black", "strokeWidth": 1.5}, "encoding": {"x": {"field": "t0", "type": "quantitative", "axis": null}, "x2": {"field": "t1"}, "y": {"datum": -22.1, "axis": null}}},
    {"data": {"name": "stim"}, "transform": [{"filter": "datum.c==2"}], "mark": {"type": "rule", "color": "black", "strokeWidth": 1.5}, "encoding": {"x": {"field": "t", "type": "quantitative", "axis": null}, "y": {"datum": -17.7, "axis": null}, "y2": {"datum": -27.1}}}
  ]},
  {"width": 198, "height": 200, "layer": [
    {"data": {"name": "traces"}, "transform": [{"filter": "datum.p=='BP3'"}], "mark": {"type": "line", "color": "black", "strokeWidth": 2.2, "strokeJoin": "round"},
     "encoding": {"x": {"field": "t", "type": "quantitative", "scale": {"domain": [0, 288.2], "nice": false, "zero": false}, "axis": null}, "y": {"field": "v", "type": "quantitative", "scale": {"domain": [-42.31, 56.07], "nice": false, "zero": false}, "axis": null}}},
    {"data": {"name": "raster"}, "transform": [{"filter": "datum.c==3"}], "mark": {"type": "rule", "color": "black", "strokeWidth": 1.5}, "encoding": {"x": {"field": "t0", "type": "quantitative", "axis": null}, "x2": {"field": "t1"}, "y": {"datum": -22.1, "axis": null}}},
    {"data": {"name": "stim"}, "transform": [{"filter": "datum.c==3"}], "mark": {"type": "rule", "color": "black", "strokeWidth": 1.5}, "encoding": {"x": {"field": "t", "type": "quantitative", "axis": null}, "y": {"datum": -17.7, "axis": null}, "y2": {"datum": -27.1}}}
  ]},
  {"width": 202, "height": 141, "layer": [
    {"data": {"name": "curves"}, "transform": [{"filter": "datum.f=='BP'"}], "mark": {"type": "line", "color": "black", "strokeWidth": 1.4},
     "encoding": {"x": {"field": "interval", "type": "quantitative", "scale": {"domain": [0, 100], "nice": false}, "axis": {"values": [0, 20, 40, 60, 80, 100], "title": "Interval (ms)", "titlePadding": 3}}, "y": {"field": "response", "type": "quantitative", "scale": {"domain": [0, 1], "nice": false}, "axis": {"values": [0, 0.25, 0.5, 0.75, 1], "format": "~g", "labelExpr": "datum.value==0.25||datum.value==0.75?'':datum.label", "title": null}}, "detail": {"field": "series"}}},
    {"data": {"name": "curves"}, "transform": [{"filter": "datum.f=='BP'"}], "mark": {"type": "point", "filled": true, "size": 85, "stroke": "black", "strokeWidth": 1.4, "opacity": 1},
     "encoding": {"x": {"field": "interval", "type": "quantitative"}, "y": {"field": "response", "type": "quantitative"}, "fill": {"field": "series", "type": "nominal", "scale": {"domain": ["psp", "spike"], "range": ["white", "black"]}, "legend": null}}}
  ]}
]
}
